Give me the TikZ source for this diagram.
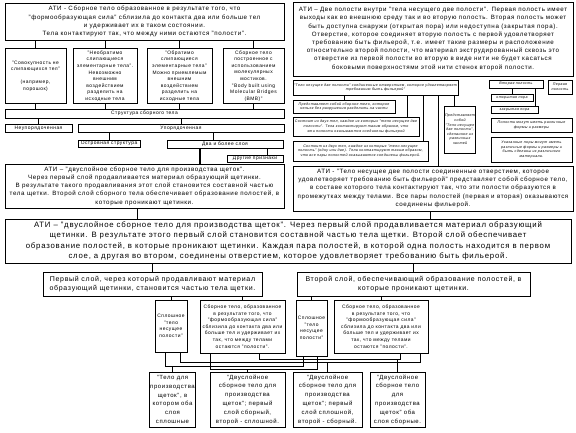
\documentclass[tikz,border=0pt]{standalone}
\usepackage{fontspec}
\setmainfont{Liberation Sans}[LetterSpace=10]

\begin{document}
\begin{tikzpicture}[x=1pt, y=-1pt, line width=0.5pt,
  box/.style={draw, align=center, inner sep=0.5pt},
  big/.style={font=\fontsize{6.2}{8.2}\selectfont},
  mid/.style={font=\fontsize{7.8}{10.2}\selectfont},
  lay/.style={font=\fontsize{7}{9.5}\selectfont},
  fin/.style={font=\fontsize{6}{8.8}\selectfont},
  sm/.style={font=\fontsize{4.9}{6.6}\selectfont},
  it/.style={font=\fontsize{3.6}{4.6}\selectfont\itshape},
  bold/.style={line width=1.6pt}]
  \useasboundingbox (0,0) rectangle (576,432);

  % ---------- левая ветвь: сборное тело ----------
  \node[box, big, minimum width=279, minimum height=37] (atiBody) at (144.5,21.5)
    {АТИ - Сборное тело образованное в результате того, что\\
     "формообразующая сила" сблизила до контакта два или больше тел\\
     и удерживает их в таком состоянии.\\
     Тела контактируют так, что между ними остаются "полости".};
  \node[box, sm, minimum width=61, minimum height=55] (loose) at (35.5,76)
    {"Совокупность не\\слипающихся тел"\\[6.6pt](например,\\порошок)};
  \node[box, sm, minimum width=64, minimum height=55] (irrev) at (105,76)
    {"Необратимо\\слипающиеся\\элементарные тела".\\Невозможно\\внешним\\воздействием\\разделить на\\исходные тела};
  \node[box, sm, minimum width=65, minimum height=55] (rev) at (179.5,76)
    {"Обратимо\\слипающиеся\\элементарные тела"\\Можно приемлемым\\внешним\\воздействием\\разделить на\\исходные тела};
  \node[box, sm, minimum width=61, minimum height=55] (bmb) at (253.5,76)
    {Сборное тело\\построенное с\\использованием\\молекулярных\\мостиков.\\"Body built using\\Molecular Bridges\\(BMB)"};
  \node[box, sm, minimum width=279, minimum height=9] (struct) at (144.5,113.5) {Структура сборного тела};
  \node[box, sm, minimum width=67, minimum height=8] (unord) at (38.5,128) {Неупорядоченная};
  \node[box, sm, minimum width=206, minimum height=8] (ord) at (181,128) {Упорядоченная};
  \node[box, sm, minimum width=62, minimum height=7] (island) at (109,143.5) {Островная структура};
  \node[box, sm, minimum width=116, minimum height=8] (twoLay) at (225,144) {Два и более слоя};
  \node[box, sm, minimum width=56, minimum height=7] (other) at (255,158.5) {Другие признаки};
  \node[box, big, minimum width=279, minimum height=44] (leftAti) at (144.5,186)
    {АТИ – "двуслойное сборное тело для производства щеток".\\
     Через первый слой продавливается материал образующий щетинки.\\
     В результате такого продавливания этот слой становится составной частью\\
     тела щетки. Второй слой сборного тела обеспечивает образование полостей, в\\
     которые проникают щетинки.};

  \foreach \n in {loose,irrev,rev,bmb}{
    \draw (\n.north |- atiBody.south) -- (\n.north);
    \draw (\n.south) -- (\n.south |- struct.north);
  }
  \draw (unord.north |- struct.south) -- (unord.north);
  \draw (ord.north |- struct.south) -- (ord.north);
  \draw (island.north |- ord.south) -- (island.north);
  \draw ([xshift=-12pt]twoLay.north |- ord.south) -- ([xshift=-12pt]twoLay.north);
  \draw ([xshift=12pt]other.north |- twoLay.south) -- ([xshift=12pt]other.north);
  \draw[bold] ([xshift=-25pt]twoLay.south) -- ([xshift=-25pt]twoLay.south |- leftAti.north);

  % ---------- правая ветвь: тело с двумя полостями ----------
  \node[box, big, minimum width=280, minimum height=74] (twoCav) at (433,39)
    {АТИ – Две полости внутри "тела несущего две полости". Первая полость имеет\\
     выходы как во внешнюю среду так и во вторую полость. Вторая полость может\\
     быть доступна снаружи (открытая пора) или недоступна (закрытая пора).\\
     Отверстие, которое соединяет вторую полость с первой удовлетворяет\\
     требованию быть фильерой, т.е. имеет такие размеры и расположение\\
     относительно второй полости, что материал экструдированный сквозь это\\
     отверстие из первой полости во вторую в виде нити не будет касаться\\
     боковыми поверхностями этой нити стенок второй полости.};
  \node[box, it, minimum width=165, minimum height=15] (carrier) at (375.5,87.5)
    {"Тело несущее две полости" соединенные отверстием, которое удовлетворяет\\требованию быть фильерой"};
  \node[box, it, minimum width=102, minimum height=13] (solid) at (344,106.5)
    {Представляет собой сборное тело, которое\\нельзя без разрушения разделить на части};
  \node[box, it, minimum width=126, minimum height=19] (twoBody) at (356,126.5)
    {Состоит из двух тел, каждое из которых "тело несущее две\\полости". Тела контактируют таким образом, что\\эти полости оказываются соединены фильерой};
  \node[box, it, minimum width=135, minimum height=20] (pairBody) at (360.5,151)
    {Состоит из двух тел, каждое из которых "тело несущее\\полость" (одну или две). Тела контактируют таким образом,\\что все пары полостей оказываются соединены фильерой.};
  \node[box, it, minimum width=28, minimum height=47] (parts) at (460,129.5)
    {Представляет\\собой\\"Тело несущее\\две полости",\\сделанное из\\различных\\частей};
  \node[box, it, minimum width=54, minimum height=8] (second) at (516,84) {Вторая полость};
  \node[box, it, minimum width=24, minimum height=14] (first) at (560,87) {Первая\\полость};
  \node[box, it, minimum width=42, minimum height=7] (openPore) at (512,97.5) {открытая пора};
  \node[box, it, minimum width=47, minimum height=7] (closedPore) at (514.5,109.5) {закрытая пора};
  \node[box, it, minimum width=81, minimum height=14] (forms) at (531.5,125)
    {Полости могут иметь различные\\формы и размеры};
  \node[box, it, minimum width=81, minimum height=25] (holes) at (531.5,149.5)
    {Указанные поры могут иметь\\различные формы и размеры и\\быть сделаны из различного\\материала.};
  \node[box, big, minimum width=280, minimum height=45] (rightAti) at (433,188.5)
    {АТИ - "Тело несущее две полости соединенные отверстием, которое\\
     удовлетворяет требованию быть фильерой" представляет собой сборное тело,\\
     в составе которого тела контактируют так, что эти полости образуются в\\
     промежутках между телами. Все пары полостей (первая и вторая) оказываются\\
     соединены фильерой.};

  \draw (solid.north |- carrier.south) -- (solid.north);
  \draw ([xshift=-12pt]twoBody.north east |- carrier.south) -- ([xshift=-12pt]twoBody.north east);
  \draw ([xshift=-5pt]pairBody.north east |- carrier.south) -- ([xshift=-5pt]pairBody.north east);
  \draw (438,0 |- carrier.south) -- (438,0 |- rightAti.north);
  \draw ([xshift=-6pt]parts.north |- carrier.south) -- ([xshift=-6pt]parts.north);
  \draw (openPore.north |- second.south) -- (openPore.north);
  \draw ([xshift=-3pt]closedPore.north east |- second.south) -- ([xshift=-3pt]closedPore.north east);

  % ---------- общий вывод ----------
  \node[box, mid, minimum width=566, minimum height=44] (brush) at (288,241)
    {АТИ – "двуслойное сборное тело для производства щеток". Через первый слой продавливается материал образующий\\
     щетинки. В результате этого первый слой становится составной частью тела щетки. Второй слой обеспечивает\\
     образование полостей, в которые проникают щетинки. Каждая пара полостей, в которой одна полость находится в первом\\
     слое, а другая во втором, соединены отверстием, которое удовлетворяет требованию быть фильерой.};
  \draw[line width=1pt] (137,0 |- leftAti.south) -- (137,0 |- brush.north);
  \draw[line width=1pt] (430,0 |- rightAti.south) -- (430,0 |- brush.north);

  \node[box, lay, minimum width=219, minimum height=24] (layOne) at (152.5,284)
    {Первый слой, через который продавливают материал\\образующий щетинки, становится частью тела щетки.};
  \node[box, lay, minimum width=233, minimum height=24] (layTwo) at (413.5,284)
    {Второй слой, обеспечивающий образование полостей, в\\которые проникают щетинки.};
  \draw[bold] (layOne.north |- brush.south) -- (layOne.north);
  \draw[bold] (layTwo.north |- brush.south) -- (layTwo.north);

  \node[box, sm, minimum width=32, minimum height=52] (solOne) at (171,326)
    {Сплошное\\"тело\\несущее\\полости"};
  \node[box, sm, minimum width=85, minimum height=53] (asmOne) at (242.5,326.5)
    {Сборное тело, образованное\\в результате того, что\\"формообразующая сила"\\сблизила до контакта два или\\больше тел и удерживает их\\так, что между телами\\остаются "полости".};
  \node[box, sm, minimum width=31, minimum height=56] (solTwo) at (311.5,328)
    {Сплошное\\"тело\\несущее\\полости"};
  \node[box, sm, minimum width=94, minimum height=53] (asmTwo) at (381,326.5)
    {Сборное тело, образованное\\в результате того, что\\"формообразующая сила"\\сблизила до контакта два или\\больше тел и удерживает их\\так, что между телами\\остаются "полости".};
  \foreach \n in {solOne,asmOne}
    \draw (\n.north |- layOne.south) -- (\n.north);
  \foreach \n in {solTwo,asmTwo}
    \draw (\n.north |- layTwo.south) -- (\n.north);

  % ---------- четыре варианта ----------
  \node[box, fin, minimum width=41, minimum height=55] (varA) at (172.5,399.5)
    {"Тело для\\производства\\щеток", в\\котором оба\\слоя\\сплошные};
  \node[box, fin, minimum width=75, minimum height=55] (varB) at (247.5,399.5)
    {"Двуслойное\\сборное тело для\\производства\\щеток"; первый\\слой сборный,\\второй - сплошной.};
  \node[box, fin, minimum width=69, minimum height=55] (varC) at (327.5,399.5)
    {"Двуслойное\\сборное тело для\\производства\\щеток"; первый\\слой сплошной,\\второй - сборный.};
  \node[box, fin, minimum width=55, minimum height=55] (varD) at (397.5,399.5)
    {"Двуслойное\\сборное тело\\для\\производства\\щеток" оба\\слоя сборные.};

  \coordinate (tieA) at (0,366);
  \coordinate (tieB) at (0,369);
  \coordinate (tieC) at (0,362);
  \coordinate (tieD) at (0,359);
  \draw ([xshift=-6pt]solOne.south) |- ([xshift=-8pt]solTwo.south |- tieA) -- ([xshift=-8pt]solTwo.south);
  \draw (varA.north) -- (varA.north |- tieA);
  \draw ([xshift=-32pt]asmOne.south) |- ([xshift=6pt]solTwo.south |- tieB) -- ([xshift=6pt]solTwo.south);
  \draw (varB.north) -- (varB.north |- tieB);
  \draw ([xshift=9pt]solOne.south) |- ([xshift=39pt]asmTwo.south |- tieC) -- ([xshift=39pt]asmTwo.south);
  \draw (varC.north) -- (varC.north |- tieC);
  \draw ([xshift=17pt]asmOne.south) |- ([xshift=19pt]asmTwo.south |- tieD) -- ([xshift=19pt]asmTwo.south);
  \draw (varD.north) -- (varD.north |- tieD);
\end{tikzpicture}
\end{document}
